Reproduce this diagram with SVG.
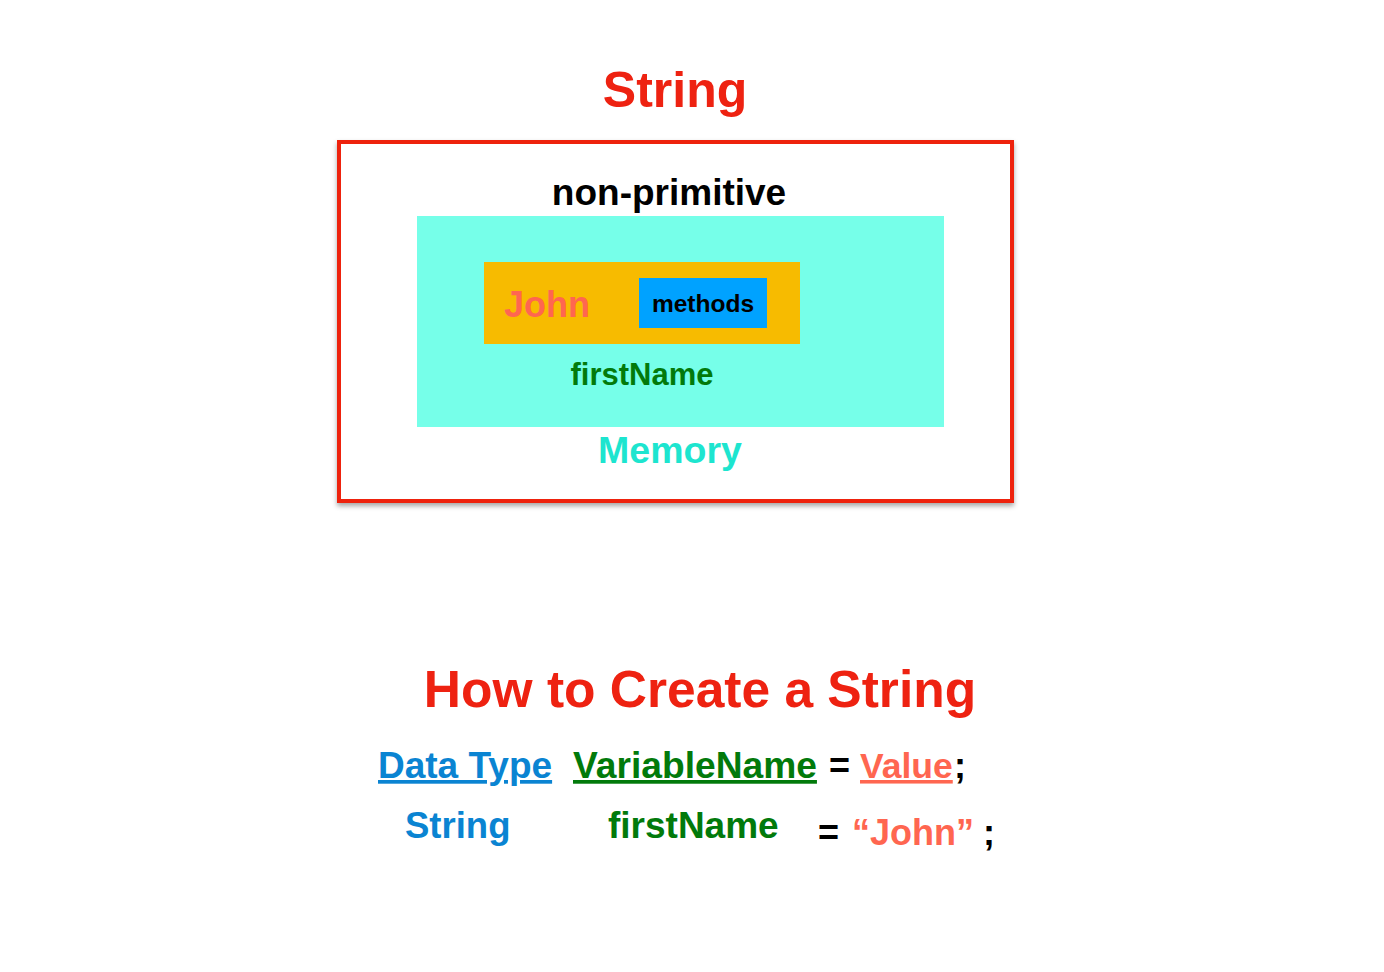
<svg xmlns="http://www.w3.org/2000/svg" width="1384" height="972" viewBox="0 0 1384 972">
<defs>
<filter id="shadow" x="-5%" y="-5%" width="110%" height="115%">
<feDropShadow dx="0" dy="3" stdDeviation="2.5" flood-color="#000" flood-opacity="0.35"/>
</filter>
<style>
text{font-family:"Liberation Sans",Arial,Helvetica,sans-serif;font-weight:bold}
.red{fill:#EE2211}
.green{fill:#027A0B}
.blue{fill:#0A84D2}
.salmon{fill:#FF6650}
.blk{fill:#000}
.ul{text-decoration:underline}
</style>
</defs>
<rect width="1384" height="972" fill="#fff"/>
<g id="title">
<text x="675" y="107" font-size="50" text-anchor="middle" class="red">String</text>
</g>
<g id="string-box">
<rect x="339" y="142" width="673" height="359" fill="#fff" stroke="#EE2211" stroke-width="4" filter="url(#shadow)"/>
<text x="669" y="205" font-size="37" text-anchor="middle" class="blk">non-primitive</text>
</g>
<g id="memory">
<rect x="417" y="216" width="527" height="211" fill="#76FFE9"/>
<text x="670" y="463" font-size="37.5" text-anchor="middle" fill="#1DE5CF">Memory</text>
</g>
<g id="firstName-var">
<rect x="484" y="262" width="316" height="82" fill="#F7BB00"/>
<text x="547" y="317" font-size="36" text-anchor="middle" class="salmon">John</text>
<text x="642" y="385" font-size="31" text-anchor="middle" class="green">firstName</text>
</g>
<g id="methods">
<rect x="639" y="278" width="128" height="50" fill="#00A2FF"/>
<text x="703" y="312" font-size="24.5" text-anchor="middle" class="blk">methods</text>
</g>
<g id="how-to">
<text x="700" y="707" font-size="51.5" text-anchor="middle" class="red">How to Create a String</text>
</g>
<g id="syntax">
<text x="378" y="778" font-size="37" class="blue ul">Data Type</text>
<text x="573" y="778" font-size="37.2" class="green ul">VariableName</text>
<text x="829" y="778" font-size="36" class="blk">=</text>
<text x="860" y="778" font-size="35.5" class="salmon ul">Value</text>
<text x="954" y="778" font-size="36" class="blk">;</text>
</g>
<g id="example">
<text x="405" y="838" font-size="36.5" class="blue">String</text>
<text x="608" y="838" font-size="37" class="green">firstName</text>
<text x="818" y="845" font-size="36" class="blk">=</text>
<text x="852" y="845" font-size="36" class="salmon">“John”</text>
<text x="983" y="845" font-size="36" class="blk">;</text>
</g>
<g id="connectors"></g>
</svg>
